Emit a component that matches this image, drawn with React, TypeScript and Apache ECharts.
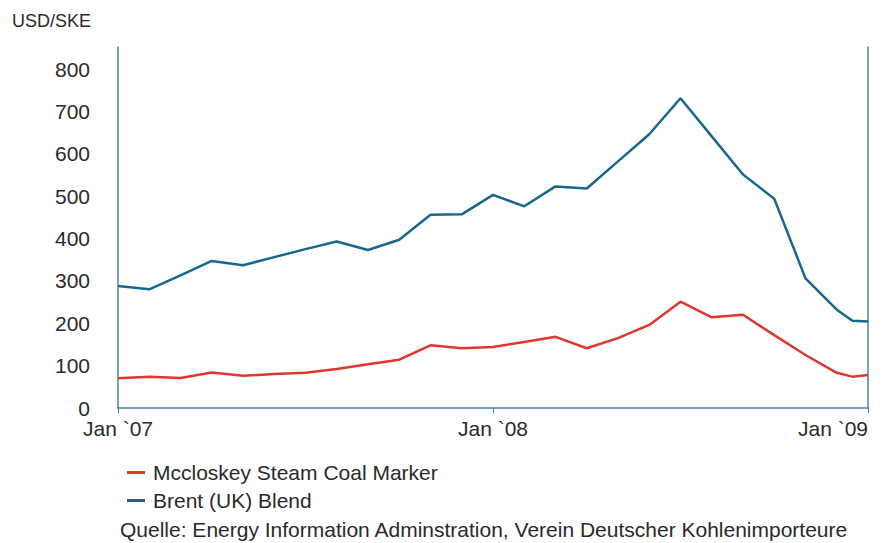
import React, { useEffect, useRef } from "react";
import * as echarts from "echarts";

// Month index (0 = Jan 2007, 12 = Jan 2008, 24 = Jan 2009)
const monthIndex = [0, 1, 2, 3, 4, 5, 6, 7, 8, 9, 10, 11, 12, 13, 14, 15, 16, 17, 18, 19, 20, 21, 22, 23, 23.5, 24];
const coalValues = [70, 74, 71, 84, 76, 80, 83, 92, 103, 114, 148, 141, 144, 156, 168, 141, 165, 196, 251, 214, 220, 172, 125, 83, 74, 78];
const brentValues = [288, 280, 313, 347, 337, 356, 375, 393, 373, 397, 456, 457, 503, 476, 523, 518, 582, 646, 731, 641, 551, 494, 306, 232, 206, 204];
const xTickLabels: Record<number, string> = { 0: "Jan `07", 12: "Jan `08", 24: "Jan `09" };
const seriesNames = ["Mccloskey Steam Coal Marker", "Brent (UK) Blend"];
const unitLabel = "USD/SKE";
const sourceText = "Quelle: Energy Information Adminstration, Verein Deutscher Kohlenimporteure";

const FONT = "'Liberation Sans', Arial, sans-serif";
const AXIS_COLOR = "#4a80a8";
const TEXT_COLOR = "#2a2a2a";

export default function App() {
  const ref = useRef<HTMLDivElement>(null);
  useEffect(() => {
    document.body.style.margin = "0";
    if (!ref.current) return;
    const chart = echarts.init(ref.current, undefined, { renderer: "svg" });
    const pair = (vals: number[]) => monthIndex.map((m, i) => [m, vals[i]]);
    chart.setOption({
      animation: false,
      backgroundColor: "#ffffff",
      textStyle: { fontFamily: FONT },
      grid: { left: 118, right: 14, top: 47, bottom: 135, outerBoundsMode: "none", containLabel: false },
      legend: {
        orient: "vertical",
        left: 122,
        top: 457,
        itemWidth: 18,
        itemHeight: 3,
        itemGap: 7,
        icon: "rect",
        data: seriesNames,
        textStyle: { fontSize: 21, color: TEXT_COLOR, fontFamily: FONT, lineHeight: 21, padding: [0, 0, 0, 3] },
      },
      xAxis: {
        type: "value",
        min: 0,
        max: 24,
        interval: 12,
        axisLine: { show: true, lineStyle: { color: AXIS_COLOR, width: 1.5 } },
        axisTick: { show: true, length: 5, lineStyle: { color: AXIS_COLOR } },
        splitLine: { show: false },
        axisLabel: {
          margin: 10,
          fontSize: 21,
          color: TEXT_COLOR,
          fontFamily: FONT,
          alignMaxLabel: "right",
          formatter: (v: number) => xTickLabels[v] ?? "",
        },
      },
      yAxis: [
        {
          type: "value",
          min: 0,
          max: 852,
          interval: 100,
          axisLine: { show: true, lineStyle: { color: AXIS_COLOR, width: 1.5 } },
          axisTick: { show: false },
          splitLine: { show: false },
          axisLabel: {
            margin: 28,
            fontSize: 21,
            color: TEXT_COLOR,
            fontFamily: FONT,
            formatter: (v: number) => (v % 100 === 0 ? String(v) : ""),
          },
        },
        {
          type: "value",
          position: "right",
          min: 0,
          max: 852,
          interval: 100,
          axisLine: { show: true, lineStyle: { color: AXIS_COLOR, width: 1.5 } },
          axisTick: { show: false },
          splitLine: { show: false },
          axisLabel: { show: false },
        },
      ],
      graphic: [
        {
          type: "text",
          left: 12,
          top: 12,
          style: { text: unitLabel, fontSize: 18, fill: TEXT_COLOR, fontFamily: FONT },
        },
        {
          type: "text",
          left: 120,
          top: 519,
          style: { text: sourceText, fontSize: 21, fill: TEXT_COLOR, fontFamily: FONT },
        },
      ],
      series: [
        {
          name: seriesNames[0],
          type: "line",
          data: pair(coalValues),
          symbol: "none",
          color: "#e0372d",
          lineStyle: { width: 2.5, color: "#e0372d" },
        },
        {
          name: seriesNames[1],
          type: "line",
          data: pair(brentValues),
          symbol: "none",
          color: "#17688b",
          lineStyle: { width: 2.5, color: "#17688b" },
        },
      ],
    });
    return () => chart.dispose();
  }, []);
  return <div ref={ref} style={{ width: 882, height: 543 }} />;
}
